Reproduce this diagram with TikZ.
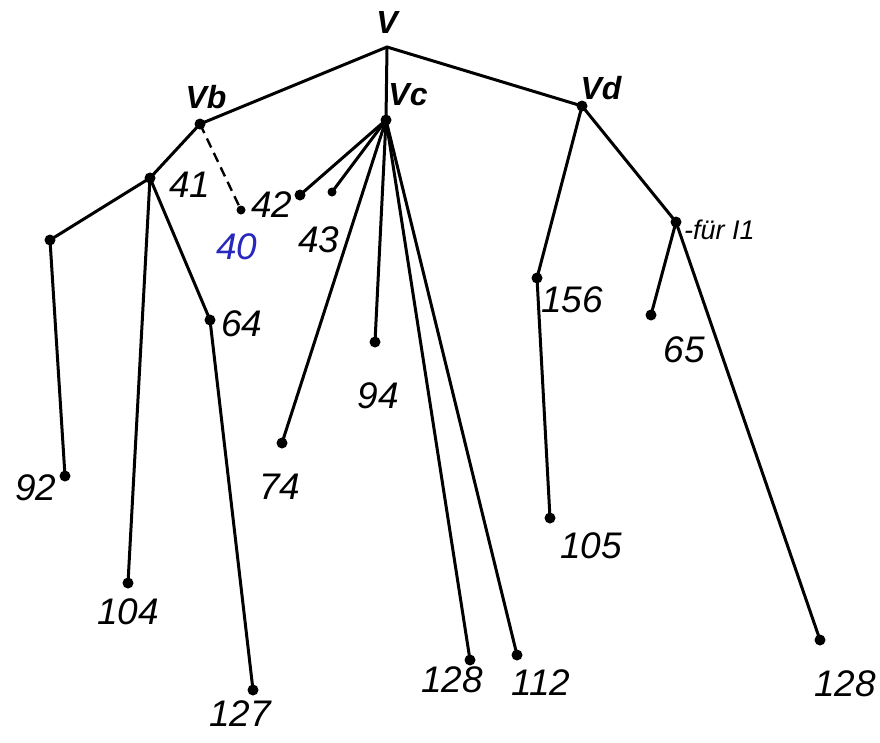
\documentclass[tikz,border=0pt]{standalone}
\usepackage{fontspec}
\setmainfont{Liberation Sans}
\definecolor{inkblue}{RGB}{40,40,190}
\begin{document}
\begin{tikzpicture}[x=1pt,y=-1pt,
  knot/.style={circle,fill=black,inner sep=0pt,minimum size=11pt},
  smallknot/.style={circle,fill=black,inner sep=0pt,minimum size=9pt},
  edge/.style={line width=3pt},
  dashedge/.style={line width=2.4pt,dashed,dash pattern=on 10pt off 6pt},
  num/.style={font=\fontsize{37}{37}\selectfont\itshape,inner sep=0pt},
  vlab/.style={font=\fontsize{32}{32}\selectfont\bfseries\itshape,inner sep=0pt},
  note/.style={font=\fontsize{27}{27}\selectfont\itshape,inner sep=0pt,anchor=west}]
\useasboundingbox (0,0) rectangle (880,742);
\fill[white] (0,0) rectangle (880,742);

% tree nodes
\coordinate (v) at (387,47);
\node[knot] (vb) at (200,124) {};
\node[knot] (vc) at (386,120) {};
\node[knot] (vd) at (582,106) {};
\node[knot] (n41) at (150,178) {};
\node[smallknot] (n40) at (241,210) {};
\node[knot] (n42) at (300,195) {};
\node[smallknot] (n43) at (332,192) {};
\node[knot] (k1) at (50,240) {};
\node[knot] (n92) at (65,476) {};
\node[knot] (n104) at (128,583) {};
\node[knot] (n64) at (210,320) {};
\node[knot] (n127) at (253,690) {};
\node[knot] (n74) at (282,443) {};
\node[knot] (n94) at (375,342) {};
\node[knot] (n128a) at (470,660) {};
\node[knot] (n112) at (517,655) {};
\node[knot] (n156) at (537,278) {};
\node[knot] (n105) at (550,518) {};
\node[knot] (nfur) at (676,222) {};
\node[knot] (n65) at (651,315) {};
\node[knot] (n128b) at (820,640) {};

% connectors
\draw[edge] (vb.center) -- (v) -- (vd.center);
\draw[edge] (v) -- (vc.center);
\draw[edge] (vb.center) -- (n41.center);
\draw[dashedge] (vb.center) -- (n40.center);
\draw[edge] (n41.center) -- (k1.center) -- (n92.center);
\draw[edge] (n41.center) -- (n104.center);
\draw[edge] (n41.center) -- (n64.center) -- (n127.center);
\foreach \t in {n42,n43,n74,n94,n128a,n112}
  \draw[edge] (vc.center) -- (\t.center);
\draw[edge] (vd.center) -- (n156.center) -- (n105.center);
\draw[edge] (vd.center) -- (nfur.center);
\draw[edge] (nfur.center) -- (n65.center);
\draw[edge] (nfur.center) -- (n128b.center);

% labels
\node[vlab] (lv) at (387,22) {V};
\node[vlab] (lvb) at (206,97) {Vb};
\node[vlab] (lvc) at (408,95) {Vc};
\node[vlab] (lvd) at (601,88) {Vd};
\node[note] (lfur) at (684,230) {-für I1};
\node[num] (l41) at (190,185) {41};
\node[num,text=inkblue] (l40) at (237,247) {40};
\node[num] (l42) at (272,205) {42};
\node[num] (l43) at (319,240) {43};
\node[num] (l64) at (242,324) {64};
\node[num] (l94) at (378,396) {94};
\node[num] (l74) at (280,487) {74};
\node[num] (l92) at (36,488) {92};
\node[num] (l104) at (128,612) {104};
\node[num] (l127) at (240,714) {127};
\node[num] (l128a) at (452,680) {128};
\node[num] (l112) at (541,683) {112};
\node[num] (l156) at (572,300) {156};
\node[num] (l65) at (684,350) {65};
\node[num] (l105) at (591,546) {105};
\node[num] (l128b) at (845,684) {128};
\end{tikzpicture}
\end{document}
